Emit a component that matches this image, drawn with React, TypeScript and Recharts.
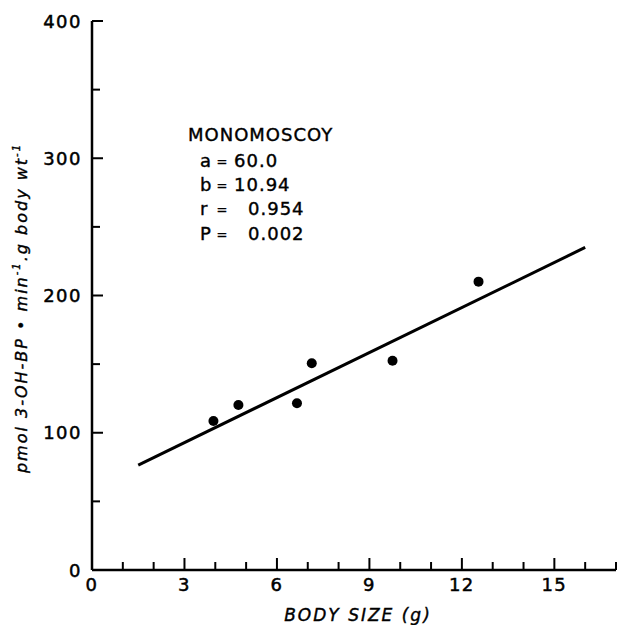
import React from 'react';
import { ScatterChart, Scatter, XAxis, YAxis } from 'recharts';

// ---- data ----
const bodySize = [3.94, 4.75, 6.65, 7.13, 9.75, 12.54];
const activity = [108.6, 120.2, 121.5, 150.6, 152.5, 210.1];
const fitX = [1.5, 16.0];
const fitY = [76.4, 235.0];
const xTicks = [0, 1, 2, 3, 4, 5, 6, 7, 8, 9, 10, 11, 12, 13, 14, 15, 16, 17];
const xTickLabels = [0, 3, 6, 9, 12, 15];
const yTicks = [0, 50, 100, 150, 200, 250, 300, 350, 400];
const yTickLabels = [0, 100, 200, 300, 400];
const siteName = 'MONOMOSCOY';
const statNames = ['a', 'b', 'r', 'P'];
const statValues = ['60.0', '10.94', '0.954', '0.002'];
const xTitle = 'BODY SIZE (g)';

const points = bodySize.map((x, i) => ({ x, y: activity[i] }));
const fitLine = fitX.map((x, i) => ({ x, y: fitY[i] }));

const FONT = '"DejaVu Sans", sans-serif';

const XTick = (props: any) => {
  const { x, y, payload } = props;
  const v = payload.value;
  const major = xTickLabels.includes(v);
  return (
    <g>
      {v !== 0 && (
        <line x1={x} y1={y} x2={x} y2={y - (major ? 12 : 8)} stroke="#000" strokeWidth={2} />
      )}
      {major && (
        <text
          x={x}
          y={y + 21}
          textAnchor="middle"
          fontFamily={FONT}
          fontSize={18}
          letterSpacing={1.5}
          fill="#000"
          stroke="#000"
          strokeWidth={0.5}
        >
          {v}
        </text>
      )}
    </g>
  );
};

const YTick = (props: any) => {
  const { x, y, payload } = props;
  const v = payload.value;
  const major = yTickLabels.includes(v);
  return (
    <g>
      {v !== 0 && (
        <line x1={x} y1={y} x2={x + (major ? 11 : 8)} y2={y} stroke="#000" strokeWidth={2} />
      )}
      {major && (
        <text
          x={x - 10}
          y={y + 6.5}
          textAnchor="end"
          fontFamily={FONT}
          fontSize={18}
          letterSpacing={1.5}
          fill="#000"
          stroke="#000"
          strokeWidth={0.5}
        >
          {v}
        </text>
      )}
    </g>
  );
};

const Dot = (p: any) => <circle cx={p.cx} cy={p.cy} r={5} fill="#000" />;
const NoDot = () => <g />;

export default function App() {
  const rowY = [167, 191, 215, 240];
  const valX = [234, 234, 248, 248];
  return (
    <div style={{ position: 'absolute', left: 0, top: 0, width: 617, height: 625, background: '#fff' }}>
      <ScatterChart width={617} height={625} margin={{ top: 21, right: 1, bottom: 0, left: 0 }}>
        <XAxis
          type="number"
          dataKey="x"
          domain={[0, 17]}
          ticks={xTicks}
          interval={0}
          tickSize={0}
          tickMargin={0}
          tickLine={false}
          tick={<XTick />}
          height={55}
          axisLine={{ stroke: '#000', strokeWidth: 2.5 }}
          allowDataOverflow
        />
        <YAxis
          type="number"
          dataKey="y"
          domain={[0, 400]}
          ticks={yTicks}
          interval={0}
          tickSize={0}
          tickMargin={0}
          tickLine={false}
          tick={<YTick />}
          width={92}
          axisLine={{ stroke: '#000', strokeWidth: 2.5 }}
          allowDataOverflow
        />
        <Scatter
          data={fitLine}
          line={{ stroke: '#000', strokeWidth: 3 }}
          shape={<NoDot />}
          isAnimationActive={false}
        />
        <Scatter data={points} shape={<Dot />} isAnimationActive={false} />
      </ScatterChart>
      <svg
        width={617}
        height={625}
        style={{ position: 'absolute', left: 0, top: 0, pointerEvents: 'none' }}
      >
        <g fontFamily={FONT} fill="#000" stroke="#000" strokeWidth={0.4}>
          <text x={188} y={141} fontSize={18} letterSpacing={1}>
            {siteName}
          </text>
          {statNames.map((n, i) => (
            <g key={n} fontSize={18}>
              <text x={200} y={rowY[i]}>{n}</text>
              <text x={222} y={rowY[i] - 1} textAnchor="middle" fontSize={13}>=</text>
              <text x={valX[i]} y={rowY[i]} letterSpacing={1}>{statValues[i]}</text>
            </g>
          ))}
          <text
            x={358}
            y={621}
            textAnchor="middle"
            fontSize={17}
            fontStyle="italic"
            letterSpacing={2}
          >
            {xTitle}
          </text>
          <text
            x={27}
            y={308}
            transform="rotate(-90 27 308)"
            textAnchor="middle"
            fontSize={16}
            fontStyle="italic"
            letterSpacing={2}
          >
            pmol 3-OH-BP • min
            <tspan fontSize={10} dy={-7}>-1</tspan>
            <tspan dy={7}>.g body wt</tspan>
            <tspan fontSize={10} dy={-7}>-1</tspan>
          </text>
        </g>
      </svg>
    </div>
  );
}
